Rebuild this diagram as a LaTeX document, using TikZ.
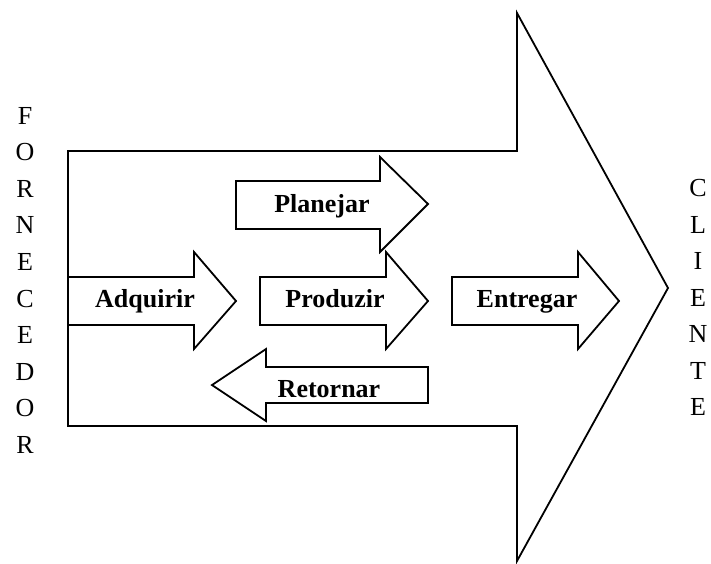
\documentclass[tikz,border=0pt]{standalone}
\usepackage{fontspec}
\setmainfont{Liberation Serif}
\begin{document}
\begin{tikzpicture}[x=1pt,y=-1pt,
  outline/.style={draw=black,line width=1.8pt,line join=miter,fill=white},
  label/.style={font=\fontsize{26}{30}\selectfont\bfseries,anchor=base,inner sep=0pt},
  letter/.style={font=\fontsize{26}{30}\selectfont,anchor=base,inner sep=0pt}]
\useasboundingbox (0,0) rectangle (711,563);

% large supply-chain arrow
\draw[outline] (68,151) -- (517,151) -- (517,13) -- (668,288) -- (517,561)
  -- (517,426) -- (68,426) -- cycle;

% process arrows
\draw[outline] (68,277) -- (194,277) -- (194,252) -- (236,301) -- (194,349)
  -- (194,325) -- (68,325) -- cycle;
\draw[outline] (236,181) -- (380,181) -- (380,157) -- (428,204) -- (380,252)
  -- (380,229) -- (236,229) -- cycle;
\draw[outline] (260,277) -- (386,277) -- (386,252) -- (428,301) -- (386,349)
  -- (386,325) -- (260,325) -- cycle;
\draw[outline] (452,277) -- (578,277) -- (578,252) -- (619,301) -- (578,349)
  -- (578,325) -- (452,325) -- cycle;
\draw[outline] (428,367) -- (266,367) -- (266,349) -- (212,385) -- (266,421)
  -- (266,403) -- (428,403) -- cycle;

% process names
\node[label] (adquirir) at (145,307) {Adquirir};
\node[label] (planejar) at (322,212) {Planejar};
\node[label] (produzir) at (335,307) {Produzir};
\node[label] (entregar) at (527,307) {Entregar};
\node[label] (retornar) at (329,397) {Retornar};

% vertical side labels
\foreach \ch [count=\i from 0] in {F,O,R,N,E,C,E,D,O,R}
  \node[letter] (forn\i) at (25,{124+36.6*\i}) {\ch};
\foreach \ch [count=\i from 0] in {C,L,I,E,N,T,E}
  \node[letter] (cli\i) at (698,{196.5+36.5*\i}) {\ch};
\end{tikzpicture}
\end{document}
